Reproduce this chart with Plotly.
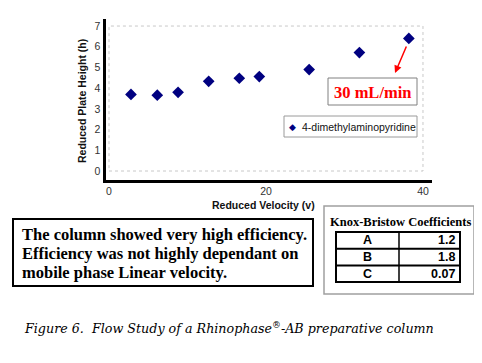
import plotly.graph_objects as go

# page body has an 8px default margin: figure is offset by (8, 8)
OFF = 8
W, H = 482 - OFF, 363 - OFF

# ---- data ----
reduced_velocity = [2.8, 6.15, 8.8, 12.7, 16.6, 19.15, 25.5, 31.9, 38.2]
reduced_plate_height = [3.70, 3.66, 3.80, 4.33, 4.48, 4.56, 4.90, 5.72, 6.40]
series_name = "4-dimethylaminopyridine"
x_ticks = [0, 20, 40]
y_ticks = [0, 1, 2, 3, 4, 5, 6, 7]
coef_names = ["A", "B", "C"]
coef_values = ["1.2", "1.8", "0.07"]
summary_lines = [
    "The column showed very high efficiency.",
    "Efficiency was not highly dependant on",
    "mobile phase Linear velocity.",
]
flow_label = "30 mL/min"
caption = "Figure 6.  Flow Study of a Rhinophase<sup>®</sup>-AB preparative column"

SANS = "Liberation Sans, Arial, sans-serif"
SERIF = "Liberation Serif, Times New Roman, serif"


def px(x):
    return (x - OFF) / W


def py(y):
    return 1 - (y - OFF) / H


fig = go.Figure()
fig.add_trace(go.Scatter(
    x=reduced_velocity, y=reduced_plate_height, mode="markers",
    name=series_name,
    marker=dict(symbol="diamond", size=9, color="#000080"),
    showlegend=False,
))

shapes = []
annotations = []

# dotted plot-area border (0..40, 0..7)
shapes.append(dict(type="rect", xref="x", yref="y", x0=0, x1=40, y0=0, y1=7,
                   line=dict(color="#c8c8c8", width=1, dash="dot"), layer="below"))

# axis titles
annotations.append(dict(text="<b>Reduced Plate Height (h)</b>", xref="paper", yref="paper",
                        x=px(82), y=py(101), textangle=-90, showarrow=False,
                        font=dict(family=SANS, size=10.5, color="#111"),
                        xanchor="center", yanchor="middle"))
annotations.append(dict(text="<b>Reduced Velocity (v)</b>", xref="paper", yref="paper",
                        x=px(264), y=py(205), showarrow=False,
                        font=dict(family=SANS, size=10.5, color="#111"),
                        xanchor="center", yanchor="middle"))

# legend (manual)
shapes.append(dict(type="rect", xref="paper", yref="paper", x0=px(284), x1=px(417),
                   y0=py(137), y1=py(116), line=dict(color="#9a9a9a", width=1),
                   fillcolor="white"))
annotations.append(dict(text="◆", xref="paper", yref="paper",
                        x=px(292), y=py(126.5), showarrow=False,
                        font=dict(family="DejaVu Sans", size=9, color="#000080"),
                        xanchor="center", yanchor="middle"))
annotations.append(dict(text=series_name, xref="paper", yref="paper",
                        x=px(300), y=py(126.5), showarrow=False,
                        font=dict(family=SANS, size=10.5, color="#111"),
                        xanchor="left", yanchor="middle"))

# flow label box + arrow
shapes.append(dict(type="rect", xref="paper", yref="paper", x0=px(328), x1=px(417),
                   y0=py(105), y1=py(78), line=dict(color="#808080", width=1),
                   fillcolor="white"))
annotations.append(dict(text="<b>" + flow_label + "</b>", xref="paper", yref="paper",
                        x=px(372), y=py(92), showarrow=False,
                        font=dict(family=SERIF, size=16.5, color="#ff0000"),
                        xanchor="center", yanchor="middle"))
annotations.append(dict(text="", xref="paper", yref="paper", x=px(395), y=py(73),
                        ax=12, ay=-28, showarrow=True, arrowhead=2, arrowsize=1,
                        arrowwidth=1.5, arrowcolor="#ff0000"))

# summary text box
shapes.append(dict(type="rect", xref="paper", yref="paper", x0=px(13), x1=px(313),
                   y0=py(286), y1=py(219), line=dict(color="black", width=2)))
for i, line in enumerate(summary_lines):
    annotations.append(dict(text="<b>" + line + "</b>", xref="paper", yref="paper",
                            x=px(20), y=py(234 + 19 * i), showarrow=False,
                            font=dict(family=SERIF, size=16.5, color="black"),
                            xanchor="left", yanchor="middle"))

# Knox-Bristow box
shapes.append(dict(type="rect", xref="paper", yref="paper", x0=px(324), x1=px(474),
                   y0=py(294), y1=py(206), line=dict(color="#a0a0a0", width=1.5)))
annotations.append(dict(text="<b>Knox-Bristow Coefficients</b>", xref="paper", yref="paper",
                        x=px(400), y=py(222), showarrow=False,
                        font=dict(family=SERIF, size=12.5, color="black"),
                        xanchor="center", yanchor="middle"))
row_top, row_h = 232, 16.7
tx0, tx1, tdiv = 336, 460, 399
shapes.append(dict(type="rect", xref="paper", yref="paper", x0=px(tx0), x1=px(tx1),
                   y0=py(row_top + row_h * len(coef_names)), y1=py(row_top),
                   line=dict(color="black", width=2)))
shapes.append(dict(type="line", xref="paper", yref="paper", x0=px(tdiv), x1=px(tdiv),
                   y0=py(row_top + row_h * len(coef_names)), y1=py(row_top),
                   line=dict(color="black", width=1.5)))
for i, (n, v) in enumerate(zip(coef_names, coef_values)):
    if i > 0:
        shapes.append(dict(type="line", xref="paper", yref="paper", x0=px(tx0), x1=px(tx1),
                           y0=py(row_top + row_h * i), y1=py(row_top + row_h * i),
                           line=dict(color="black", width=2)))
    yc = row_top + row_h * (i + 0.5)
    annotations.append(dict(text="<b>" + n + "</b>", xref="paper", yref="paper",
                            x=px((tx0 + tdiv) / 2), y=py(yc), showarrow=False,
                            font=dict(family=SANS, size=12.5, color="black"),
                            xanchor="center", yanchor="middle"))
    annotations.append(dict(text="<b>" + v + "</b>", xref="paper", yref="paper",
                            x=px(457), y=py(yc), showarrow=False,
                            font=dict(family=SANS, size=12.5, color="black"),
                            xanchor="right", yanchor="middle"))

# caption
annotations.append(dict(text="<i>" + caption + "</i>", xref="paper", yref="paper",
                        x=px(22), y=py(328), showarrow=False,
                        font=dict(family="DejaVu Serif", size=12.7, color="black"),
                        xanchor="left", yanchor="middle"))

fig.update_layout(
    width=W, height=H,
    margin=dict(l=0, r=0, t=0, b=0),
    paper_bgcolor="white", plot_bgcolor="white",
    showlegend=False,
    xaxis=dict(domain=[px(105.5), px(432)], range=[-0.446, 41.15],
               tickvals=x_ticks, showgrid=False, zeroline=False,
               showline=True, linecolor="black", linewidth=3, ticks="",
               tickfont=dict(family=SANS, size=10.5, color="#333")),
    yaxis=dict(domain=[py(179.5), py(19)], range=[-0.41, 7.34],
               tickvals=y_ticks, showgrid=False, zeroline=False,
               showline=True, linecolor="black", linewidth=3, ticks="",
               tickfont=dict(family=SANS, size=10.5, color="#333")),
    shapes=shapes,
    annotations=annotations,
)

fig.write_html("out.html")
